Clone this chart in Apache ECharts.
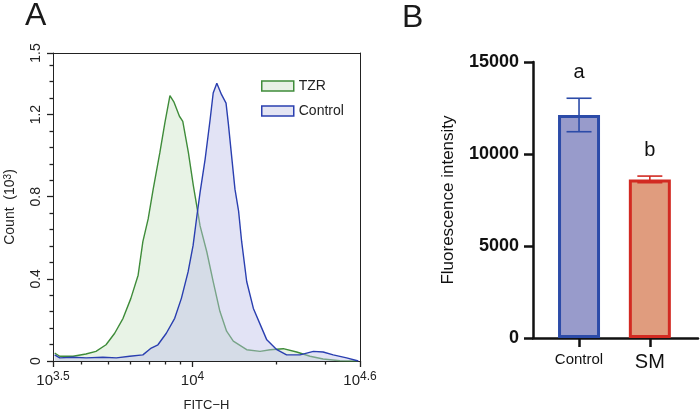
<!DOCTYPE html>
<html>
<head>
    <meta charset="UTF-8">
    <title>FITC histogram and fluorescence intensity</title>
    <style>
        html, body { margin: 0; padding: 0; background: #fff; }
    </style>
</head>
<body>
    <div id="main" style="width:700px;height:417px"></div>

    <script src="https://cdn.jsdelivr.net/npm/echarts@6/dist/echarts.min.js"></script>
    <script>
        /* panel A: histogram, x is log10(FITC-H), y is count in thousands */
        var tzrLog = [3.506, 3.524, 3.572, 3.618, 3.654, 3.690, 3.721, 3.751, 3.779, 3.805,
                      3.822, 3.841, 3.859, 3.883, 3.901, 3.919, 3.934, 3.941, 3.953, 3.965,
                      3.985, 4.003, 4.021, 4.027, 4.051, 4.074, 4.098, 4.122, 4.146, 4.194,
                      4.242, 4.278, 4.325, 4.373, 4.421, 4.468, 4.528, 4.588];
        var tzrCount = [0.039, 0.023, 0.023, 0.034, 0.047, 0.079, 0.135, 0.208, 0.305, 0.418,
                        0.581, 0.692, 0.837, 1.016, 1.161, 1.292, 1.259, 1.263, 1.192, 1.167,
                        1.016, 0.853, 0.708, 0.658, 0.532, 0.387, 0.242, 0.145, 0.097, 0.055,
                        0.047, 0.055, 0.060, 0.044, 0.023, 0.010, 0.001, 0.000];
        var controlLog = [3.506, 3.524, 3.572, 3.619, 3.679, 3.727, 3.775, 3.822, 3.852, 3.876,
                          3.906, 3.936, 3.960, 3.984, 4.002, 4.016, 4.027, 4.045, 4.063, 4.074,
                          4.087, 4.104, 4.120, 4.128, 4.140, 4.152, 4.165, 4.176, 4.194, 4.218,
                          4.248, 4.266, 4.302, 4.337, 4.385, 4.433, 4.468, 4.504, 4.552, 4.594];
        var controlCount = [0.030, 0.015, 0.018, 0.015, 0.018, 0.015, 0.023, 0.030, 0.063, 0.079,
                            0.135, 0.208, 0.305, 0.434, 0.563, 0.711, 0.821, 0.982, 1.176, 1.305,
                            1.353, 1.297, 1.256, 1.160, 0.998, 0.837, 0.730, 0.581, 0.387, 0.256,
                            0.160, 0.103, 0.055, 0.030, 0.030, 0.047, 0.044, 0.030, 0.015, 0.000];
        var xTicksA = [3.5, 4, 4.6];
        var yTicksA = [0, 0.4, 0.8, 1.2, 1.5];
        var xMinorA = [4000, 5000, 6000, 7000, 8000, 9000, 20000, 30000];

        /* panel B: bar chart with SD */
        var groups = ['Control', 'SM'];
        var means = [12120, 8620];
        var sds = [910, 180];
        var letters = ['a', 'b'];
        var yTicksB = [0, 5000, 10000, 15000];

        var font = 'Arial, "Liberation Sans", Helvetica, sans-serif';
        var fills = ['#989bcb', '#e09c7e'];
        var borders = ['#2c4ba8', '#d22a22'];

        function pairs(xs, ys) {
            return xs.map(function (x, i) { return [x, ys[i]]; });
        }

        var xMinorLog = xMinorA.map(function (v) { return Math.log10(v); });

        // plain frame line for the top and right of panel A
        function frameAxis(extra) {
            var a = {
                type: 'value', gridIndex: 0,
                axisLine: {show: true, onZero: false, lineStyle: {color: '#222', width: 1}},
                axisTick: {show: false}, axisLabel: {show: false}, splitLine: {show: false}
            };
            for (var key in extra) a[key] = extra[key];
            return a;
        }

        var app = echarts.init(document.getElementById('main'));
        var option = {
            animation: false,
            textStyle: {fontFamily: font},
            graphic: [
                {type: 'text', left: 25, top: 0, style: {text: 'A', font: '32px ' + font, fill: '#1a1a1a'}},
                {type: 'text', left: 402, top: 2, style: {text: 'B', font: '32px ' + font, fill: '#1a1a1a'}}
            ],
            legend: {
                orient: 'vertical',
                left: 256,
                top: 74,
                icon: 'rect',
                itemWidth: 32,
                itemHeight: 10,
                itemGap: 11,
                textStyle: {fontSize: 14, color: '#222', fontFamily: font},
                data: [
                    {name: 'TZR', itemStyle: {color: '#e8f1e6', borderColor: '#3f8c3a', borderWidth: 1.5}},
                    {name: 'Control', itemStyle: {color: '#e4e5f3', borderColor: '#2a3fb0', borderWidth: 1.5}}
                ]
            },
            grid: [
                {left: 53, top: 53, width: 307, height: 310},
                {left: 533, top: 62, width: 165, height: 276}
            ],
            xAxis: [
                {
                    type: 'value', gridIndex: 0, min: 3.5, max: 4.6, position: 'bottom',
                    axisLine: {show: true, onZero: false, lineStyle: {color: '#222', width: 1}},
                    axisTick: {show: true, customValues: xTicksA, length: 6, lineStyle: {color: '#222', width: 1.3}},
                    axisLabel: {
                        customValues: xTicksA, margin: 10, color: '#222',
                        formatter: function (v) {
                            var p = v === 4 ? '4' : String(v);
                            return '{b|10}{s|' + p + '}';
                        },
                        rich: {
                            b: {fontSize: 15, fontFamily: font, color: '#222', verticalAlign: 'bottom', lineHeight: 17},
                            s: {fontSize: 12, fontFamily: font, color: '#222', verticalAlign: 'top', lineHeight: 12}
                        }
                    },
                    splitLine: {show: false},
                    name: 'FITC\u2212H', nameLocation: 'middle', nameGap: 38,
                    nameTextStyle: {fontSize: 13, color: '#222', fontFamily: font}
                },
                {
                    // minor log ticks along the same bottom edge
                    type: 'value', gridIndex: 0, min: 3.5, max: 4.6, position: 'bottom',
                    axisLine: {show: true, onZero: false, lineStyle: {color: '#222', width: 1}},
                    axisTick: {show: true, customValues: xMinorLog, length: 3.5, lineStyle: {color: '#222', width: 1.3}},
                    axisLabel: {show: false},
                    splitLine: {show: false}
                },
                frameAxis({min: 3.5, max: 4.6, position: 'top'}),
                {
                    type: 'value', gridIndex: 1, min: -0.65, max: 1.68, position: 'bottom',
                    axisLine: {onZero: false, lineStyle: {color: '#111', width: 2.5}},
                    axisTick: {customValues: [0, 1], length: 9, lineStyle: {color: '#111', width: 2.5}},
                    axisLabel: {
                        customValues: [0, 1], margin: 14,
                        formatter: function (v) {
                            return v === 0 ? '{c|' + groups[0] + '}' : '{d|' + groups[1] + '}';
                        },
                        rich: {
                            c: {fontSize: 15, color: '#111', fontFamily: font},
                            d: {fontSize: 20, color: '#111', fontFamily: font}
                        }
                    },
                    splitLine: {show: false}
                }
            ],
            yAxis: [
                {
                    type: 'value', gridIndex: 0, min: 0, max: 1.5, interval: 0.4, position: 'left',
                    axisLine: {show: true, onZero: false, lineStyle: {color: '#222', width: 1}},
                    axisTick: {show: true, length: 6, lineStyle: {color: '#222', width: 1.3}},
                    minorTick: {show: true, splitNumber: 5, length: 3.5, lineStyle: {color: '#222', width: 1.3}},
                    axisLabel: {customValues: yTicksA, rotate: 90, margin: 10, fontSize: 14, color: '#222'},
                    splitLine: {show: false},
                    name: 'Count  (10{s|3})', nameLocation: 'middle', nameGap: 36,
                    nameTextStyle: {
                        fontSize: 14, color: '#222', fontFamily: font,
                        rich: {s: {fontSize: 10, color: '#222', fontFamily: font, verticalAlign: 'top', lineHeight: 10}}
                    }
                },
                frameAxis({min: 0, max: 1.5, position: 'right'}),
                {
                    type: 'value', gridIndex: 1, min: 0, max: 15000, interval: 5000, position: 'left',
                    axisLine: {show: true, onZero: false, lineStyle: {color: '#111', width: 2.5}},
                    axisTick: {show: true, length: 9, lineStyle: {color: '#111', width: 2.5}},
                    axisLabel: {
                        customValues: yTicksB, margin: 14, fontSize: 18, fontWeight: 'bold', color: '#111',
                        formatter: function (v) { return String(v); }
                    },
                    splitLine: {show: false},
                    name: 'Fluorescence intensity', nameLocation: 'middle', nameGap: 76,
                    nameTextStyle: {fontSize: 17, color: '#111', fontFamily: font}
                }
            ],
            series: [
                {
                    name: 'TZR', type: 'line', xAxisIndex: 0, yAxisIndex: 0,
                    data: pairs(tzrLog, tzrCount), showSymbol: false, symbol: 'none',
                    color: '#3f8c3a',
                    lineStyle: {color: '#3f8c3a', width: 1.4},
                    areaStyle: {color: 'rgba(204,228,200,0.45)', opacity: 1},
                    z: 2
                },
                {
                    name: 'Control', type: 'line', xAxisIndex: 0, yAxisIndex: 0,
                    data: pairs(controlLog, controlCount), showSymbol: false, symbol: 'none',
                    color: '#2a3fb0',
                    lineStyle: {color: '#2a3fb0', width: 1.4},
                    areaStyle: {color: 'rgba(190,192,232,0.45)', opacity: 1},
                    z: 3
                },
                {
                    type: 'bar', xAxisIndex: 3, yAxisIndex: 2, barWidth: 42,
                    data: means.map(function (m, i) {
                        return {value: [i, m], itemStyle: {color: fills[i], borderColor: borders[i], borderWidth: 3}};
                    })
                },
                {
                    type: 'custom', xAxisIndex: 3, yAxisIndex: 2, z: 5,
                    data: means.map(function (m, i) { return [i, m, sds[i]]; }),
                    renderItem: function (params, api) {
                        var i = params.dataIndex;
                        var x = api.value(0), m = api.value(1), s = api.value(2);
                        var top = api.coord([x, m + s]);
                        var bot = api.coord([x, m - s]);
                        var w = 12.5;
                        var st = {stroke: borders[i], lineWidth: 1.6};
                        return {
                            type: 'group',
                            children: [
                                {type: 'line', shape: {x1: top[0], y1: top[1], x2: bot[0], y2: bot[1]}, style: st},
                                {type: 'line', shape: {x1: top[0] - w, y1: top[1], x2: top[0] + w, y2: top[1]}, style: st},
                                {type: 'line', shape: {x1: bot[0] - w, y1: bot[1], x2: bot[0] + w, y2: bot[1]}, style: st},
                                {type: 'text', x: top[0], y: top[1] - 26,
                                 style: {text: letters[i], font: '20px ' + font, fill: '#111', align: 'center', verticalAlign: 'middle'}}
                            ]
                        };
                    }
                }
            ]
        };
        app.setOption(option);
        window.addEventListener('resize', function () {
            app.resize();
        });
    </script>
</body>
</html>
